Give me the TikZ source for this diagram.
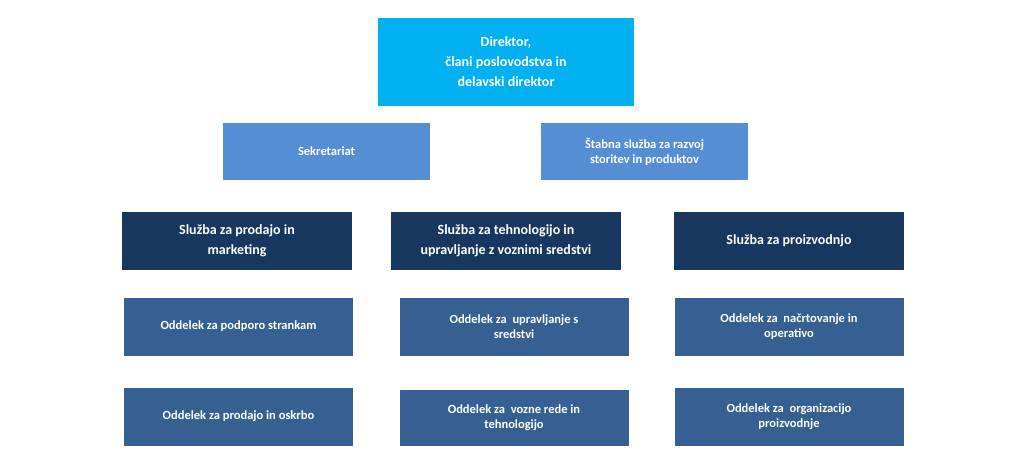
\documentclass[tikz,border=0pt]{standalone}
\usepackage{fontspec}
\setmainfont{Carlito}
\definecolor{topblue}{HTML}{00B0F0}
\definecolor{staffblue}{HTML}{558ED5}
\definecolor{navy}{HTML}{17375E}
\definecolor{deptblue}{HTML}{376092}
\tikzset{
    unit/.style={rectangle,text=white,align=center,inner sep=2pt,font=\bfseries\fontsize{12.5}{15}\selectfont},
    topunit/.style={unit,fill=topblue,minimum width=256pt,minimum height=88pt,font=\bfseries\fontsize{14}{20}\selectfont},
    staffunit/.style={unit,fill=staffblue,minimum width=207pt,minimum height=57pt},
    serviceunit/.style={unit,fill=navy,minimum width=230pt,minimum height=58pt,font=\bfseries\fontsize{14}{20}\selectfont},
    deptunit/.style={unit,fill=deptblue,minimum width=229pt,minimum height=58pt}
}
\begin{document}
\begin{tikzpicture}[x=1pt,y=-1pt]
        \useasboundingbox (0,0) rectangle (1024,451);
        \node[topunit] (dir) at (506,62) {Direktor,\\člani poslovodstva in\\delavski direktor};

        \node[staffunit] (sek) at (326.5,151.5) {Sekretariat};
        \node[staffunit] (stab) at (644.5,151.5) {Štabna služba za razvoj\\storitev in produktov};

        \node[serviceunit] (s1) at (237,241) {Služba za prodajo in\\marketing};
        \node[serviceunit] (s2) at (506,241) {Služba za tehnologijo in\\upravljanje z voznimi sredstvi};
        \node[serviceunit] (s3) at (789,241) {Služba za proizvodnjo};

        \node[deptunit] (o1) at (238.5,326.5) {Oddelek za podporo strankam};
        \node[deptunit] (o2) at (514,326.5) {Oddelek za\ \ upravljanje s\\sredstvi};
        \node[deptunit] (o3) at (789,326.5) {Oddelek za\ \ načrtovanje in\\operativo};

        \node[deptunit] (o4) at (238.5,416.5) {Oddelek za prodajo in oskrbo};
        \node[deptunit,minimum height=56pt] (o5) at (514,418) {Oddelek za\ \ vozne rede in\\tehnologijo};
        \node[deptunit] (o6) at (789,416.5) {Oddelek za\ \ organizacijo\\proizvodnje};
    \end{tikzpicture}
\end{document}
